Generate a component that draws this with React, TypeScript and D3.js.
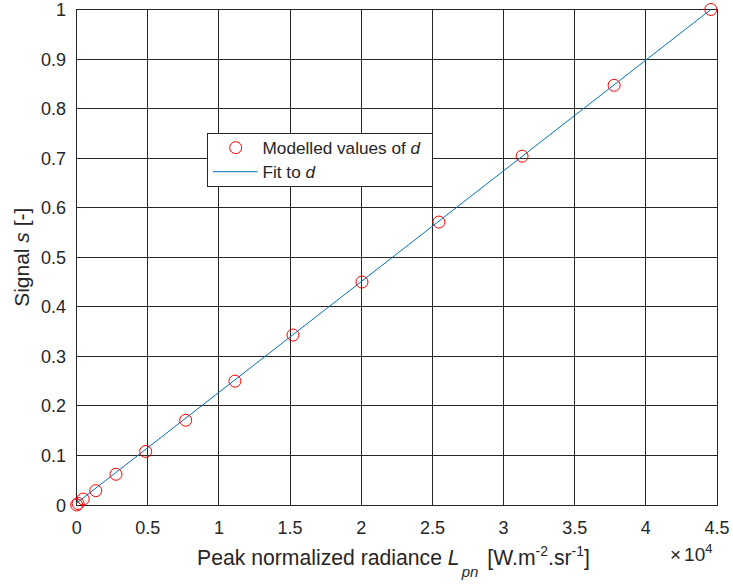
import React from "react";
import * as d3 from "d3";

const xTicks = [0, 0.5, 1, 1.5, 2, 2.5, 3, 3.5, 4, 4.5];
const xTickLabels = ["0", "0.5", "1", "1.5", "2", "2.5", "3", "3.5", "4", "4.5"];
const yTicks = [0, 0.1, 0.2, 0.3, 0.4, 0.5, 0.6, 0.7, 0.8, 0.9, 1];
const yTickLabels = ["0", "0.1", "0.2", "0.3", "0.4", "0.5", "0.6", "0.7", "0.8", "0.9", "1"];

// Modelled values of d (x in units of 1e4)
const modelX = [0, 0.01, 0.046, 0.134, 0.276, 0.485, 0.766, 1.112, 1.52, 2.005, 2.546, 3.13, 3.777, 4.457];
const modelY = [0, 0.003, 0.012, 0.029, 0.062, 0.108, 0.171, 0.25, 0.343, 0.45, 0.571, 0.704, 0.847, 1.0];

// Fit to d
const fitX = [0, 4.457];
const fitY = [0.004, 1.0];

const W = 733;
const H = 585;
const L = 76.7;
const R = 717;
const T = 9.5;
const B = 505;
const FONT = "'Liberation Sans', Arial, Helvetica, sans-serif";
const TXT = "#262626";

export default function App() {
  const x = d3.scaleLinear().domain([0, 4.5]).range([L, R]);
  const y = d3.scaleLinear().domain([0, 1]).range([B, T]);
  const line = d3
    .line<number>()
    .x((_, i) => x(fitX[i]))
    .y((_, i) => y(fitY[i]));

  const lgL = 207.5, lgT = 133.5, lgR = 432.5, lgB = 186;

  return (
    <svg width={W} height={H} style={{ position: "absolute", left: 0, top: 0, background: "#fff" }} fontFamily={FONT}>
      <rect x={0} y={0} width={W} height={H} fill="#fff" />
      {/* grid */}
      {xTicks.map((t) => (
        <line key={"gx" + t} x1={x(t)} x2={x(t)} y1={T} y2={B} stroke="#262626" strokeWidth={1} shapeRendering="crispEdges" />
      ))}
      {yTicks.map((t) => (
        <line key={"gy" + t} x1={L} x2={R} y1={y(t)} y2={y(t)} stroke="#262626" strokeWidth={1} shapeRendering="crispEdges" />
      ))}
      {/* box */}
      <rect x={L} y={T} width={R - L} height={B - T} fill="none" stroke="#262626" strokeWidth={1} shapeRendering="crispEdges" />
      {/* tick labels */}
      {xTicks.map((t, i) => (
        <text key={"xl" + t} x={x(t)} y={534} textAnchor="middle" fontSize={18} fill={TXT}>
          {xTickLabels[i]}
        </text>
      ))}
      {yTicks.map((t, i) => (
        <text key={"yl" + t} x={66} y={y(t) + 6.5} textAnchor="end" fontSize={18} fill={TXT}>
          {yTickLabels[i]}
        </text>
      ))}
      {/* fit line */}
      <path d={line(fitX) || ""} fill="none" stroke="#0072BD" strokeWidth={1} />
      {/* markers */}
      {modelX.map((v, i) => (
        <circle key={"m" + i} cx={x(v)} cy={y(modelY[i])} r={6} fill="none" stroke="#FF0000" strokeWidth={1} />
      ))}
      {/* legend */}
      <rect x={lgL} y={lgT} width={lgR - lgL} height={lgB - lgT} fill="#fff" stroke="#262626" strokeWidth={1} shapeRendering="crispEdges" />
      <circle cx={235.7} cy={147.7} r={6} fill="none" stroke="#FF0000" strokeWidth={1} />
      <text x={262.5} y={154} fontSize={17.2} fill={TXT}>
        Modelled values of <tspan fontStyle="italic">d</tspan>
      </text>
      <line x1={213} x2={257.7} y1={171.7} y2={171.7} stroke="#0072BD" strokeWidth={1} />
      <text x={262.5} y={178} fontSize={17.2} fill={TXT}>
        Fit to <tspan fontStyle="italic">d</tspan>
      </text>
      {/* x label */}
      <text x={197} y={565} fontSize={21.2} fill={TXT} style={{ whiteSpace: "pre" }}>
        <tspan>Peak normalized radiance </tspan>
        <tspan fontStyle="italic">L</tspan>
        <tspan fontStyle="italic" fontSize={15} dx={2} dy={12}>pn</tspan>
        <tspan dx={9} dy={-12}>[W.m</tspan>
        <tspan fontSize={14} dy={-9}>-2</tspan>
        <tspan dy={9}>.sr</tspan>
        <tspan fontSize={14} dy={-9}>-1</tspan>
        <tspan dy={9}>]</tspan>
      </text>
      {/* exponent */}
      <text x={670} y={561} fontSize={19} fill={TXT}>
        ×<tspan dx={3}>10</tspan><tspan fontSize={13} dy={-8}>4</tspan>
      </text>
      {/* y label */}
      <text transform={`translate(29, ${(T + B) / 2}) rotate(-90)`} textAnchor="middle" fontSize={21} fill={TXT}>
        Signal <tspan fontStyle="italic">s</tspan> [-]
      </text>
    </svg>
  );
}
